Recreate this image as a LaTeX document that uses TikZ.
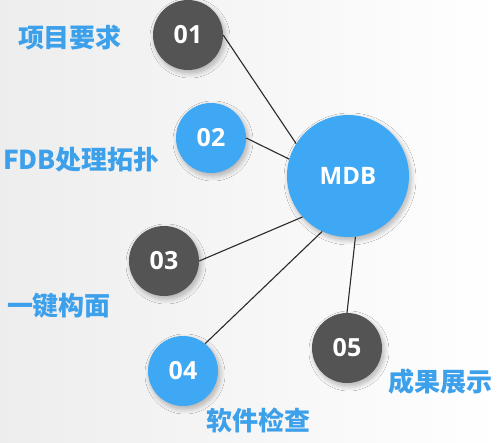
\documentclass[tikz,border=0pt]{standalone}
\usepackage{fontspec}
\newfontfamily\cjk{Noto Sans CJK SC}[BoldFont={Noto Sans CJK SC Black}]
\newfontfamily\numf{Open Sans}
\usetikzlibrary{shadows.blur}
\definecolor{cblue}{HTML}{3FA8F4}
\definecolor{cgray}{HTML}{545454}
\definecolor{tblue}{HTML}{3DA0EA}
\definecolor{lnk}{HTML}{2A2A2A}
\tikzset{
  bub/.style={circle, minimum size=70pt, inner sep=0pt, text=white,
    font={\numf\bfseries\fontsize{25}{25}\selectfont},
    blur shadow={shadow blur steps=10, shadow xshift=2pt, shadow yshift=-3pt, shadow opacity=30, shadow blur radius=5pt}},
  bb/.style={bub, fill=cblue},
  bg/.style={bub, fill=cgray},
  lab/.style={text=tblue, font={\cjk\bfseries\fontsize{26}{26}\selectfont}, inner sep=0pt},
  lnkline/.style={draw=lnk, line width=1.1pt}
}
\begin{document}
\begin{tikzpicture}[x=1pt,y=-1pt]
\useasboundingbox (0,0) rectangle (499,443);
\shade[left color=black!7, right color=white] (0,0) rectangle (499,443);
\node[bb, minimum size=122pt, font={\numf\bfseries\fontsize{24}{24}\selectfont}] (mdb) at (348,176) {MDB};
\node[bg] (c1) at (188,35) {01};
\node[bb] (c2) at (211,138) {02};
\node[bg] (c3) at (164,261) {03};
\node[bb] (c4) at (183,371) {04};
\node[bg] (c5) at (347,348) {05};
\draw[lnkline] (c1.east) -- (mdb.148);
\draw[lnkline] (c2.east) -- (mdb.164);
\draw[lnkline] (c3.east) -- (mdb.222);
\draw[lnkline] (c4.51) -- (mdb.245);
\draw[lnkline] (c5.north) -- (mdb.277);
\node[lab] (t1) at (70,38) {项目要求};
\node[lab, anchor=west] (t2) at (3,160) {FDB处理拓扑};
\node[lab] (t3) at (59,306) {一键构面};
\node[lab] (t4) at (258,420) {软件检查};
\node[lab] (t5) at (440,382) {成果展示};
\end{tikzpicture}
\end{document}
